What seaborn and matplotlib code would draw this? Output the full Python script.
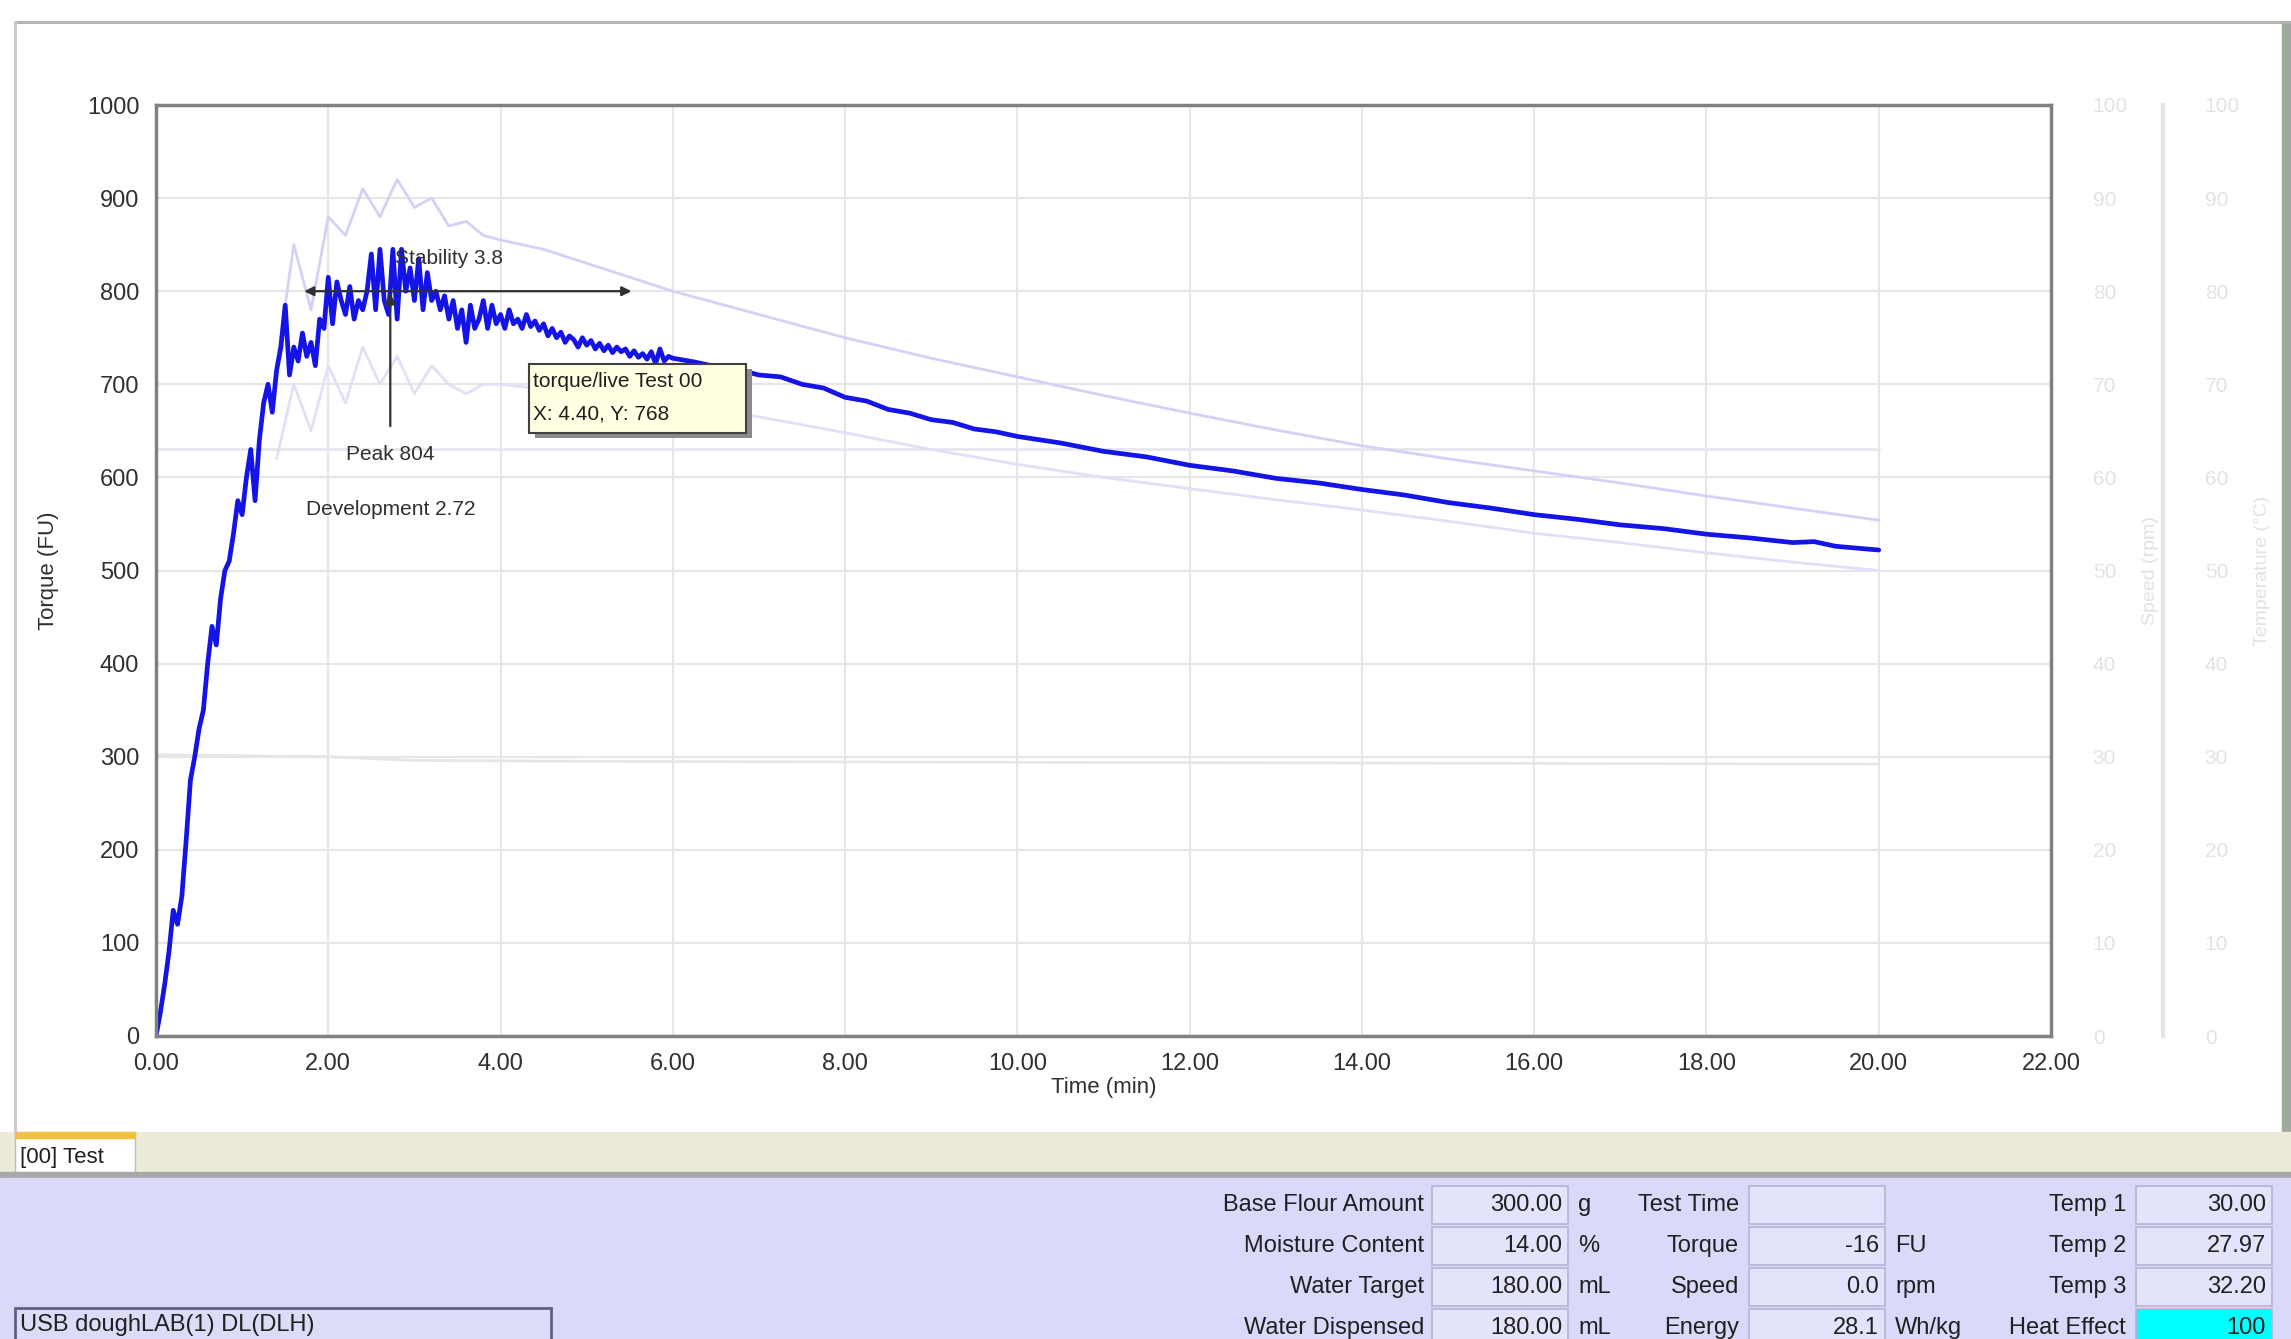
import numpy as np
import pandas as pd
import seaborn as sns
import matplotlib.pyplot as plt
from matplotlib.patches import Rectangle

# torque curve (time in min, torque in FU)
time_fast = [round(0.05 * i, 2) for i in range(121)]
torque_fast = [0, 25, 55, 90, 135, 120, 150, 210, 275, 300,
               330, 350, 400, 440, 420, 470, 500, 510, 540, 575,
               560, 600, 630, 575, 640, 680, 700, 670, 715, 740,
               785, 710, 740, 725, 755, 730, 745, 720, 770, 760,
               815, 765, 810, 790, 775, 805, 770, 790, 780, 800,
               840, 780, 845, 790, 775, 845, 770, 845, 800, 825,
               790, 835, 780, 820, 790, 800, 780, 795, 770, 790,
               760, 780, 745, 785, 760, 770, 790, 760, 785, 765,
               775, 760, 780, 765, 770, 760, 775, 762, 768, 758,
               765, 752, 760, 750, 756, 745, 752, 748, 740, 750,
               742, 747, 738, 744, 736, 742, 734, 740, 735, 738,
               730, 736, 729, 733, 727, 735, 722, 738, 725, 730,
               728]
time_slow = [6.25, 6.5, 6.75, 7.0, 7.25, 7.5, 7.75, 8.0, 8.25, 8.5, 8.75, 9.0,
             9.25, 9.5, 9.75, 10.0, 10.5, 11.0, 11.5, 12.0, 12.5, 13.0, 13.5,
             14.0, 14.5, 15.0, 15.5, 16.0, 16.5, 17.0, 17.5, 18.0, 18.5, 19.0,
             19.25, 19.5, 19.75, 20.0]
torque_slow = [724, 719, 716, 710, 708, 700, 696, 686, 682, 673, 669, 662,
               659, 652, 649, 644, 637, 628, 622, 613, 607, 599, 594,
               587, 581, 573, 567, 560, 555, 549, 545, 539, 535, 530,
               531, 526, 524, 522]

# faint tolerance band curves
band_time = [1.4, 1.6, 1.8, 2.0, 2.2, 2.4, 2.6, 2.8, 3.0, 3.2, 3.4, 3.6, 3.8,
             4.0, 4.5, 5.0, 5.5, 6.0, 7, 8, 9, 10, 11, 12, 13, 14, 15, 16,
             17, 18, 19, 20]
band_upper = [720, 850, 780, 880, 860, 910, 880, 920, 890, 900, 870, 875, 860,
              855, 845, 830, 815, 800, 775, 750, 728, 708, 688, 669, 651, 634,
              620, 607, 594, 580, 567, 554]
band_lower = [620, 700, 650, 720, 680, 740, 700, 730, 690, 720, 700, 690, 700,
              700, 695, 690, 685, 680, 665, 648, 630, 614, 600, 588, 576, 565,
              553, 540, 530, 519, 509, 500]

# speed (rpm) and temperature (C) traces, 0-100 scale
aux_time = [0, 1, 2, 3, 5, 10, 15, 20]
speed_rpm = [63, 63, 63, 63, 63, 63, 63, 63]
temp_c = [30.2, 30.1, 30.0, 29.6, 29.5, 29.4, 29.3, 29.2]

x_ticks = [0, 2, 4, 6, 8, 10, 12, 14, 16, 18, 20, 22]
y_ticks = [0, 100, 200, 300, 400, 500, 600, 700, 800, 900, 1000]

col1_labels = ['Base Flour Amount', 'Moisture Content', 'Water Target', 'Water Dispensed']
col1_values = ['300.00', '14.00', '180.00', '180.00']
col1_units = ['g', '%', 'mL', 'mL']
col2_labels = ['Test Time', 'Torque', 'Speed', 'Energy']
col2_values = ['', '-16', '0.0', '28.1']
col2_units = ['', 'FU', 'rpm', 'Wh/kg']
col3_labels = ['Temp 1', 'Temp 2', 'Temp 3', 'Heat Effect']
col3_values = ['30.00', '27.97', '32.20', '100']

sns.set_theme(style='white')
plt.rcParams['font.family'] = ['Liberation Sans Narrow', 'Liberation Sans', 'DejaVu Sans']

W, H = 2291, 1339
fig = plt.figure(figsize=(W / 100, H / 100), dpi=100)
fig.patch.set_facecolor('white')

# window chrome, in pixel coordinates
bg = fig.add_axes([0, 0, 1, 1], zorder=0)
bg.set_xlim(0, W)
bg.set_ylim(H, 0)
bg.axis('off')
bg.plot([15, W], [22, 22], color='#b0b0b0', lw=2)
bg.plot([15, 15], [22, 1132], color='#c8c8c8', lw=2)
bg.add_patch(Rectangle((2282, 22), 9, 1110, color='#9ea89e'))
bg.add_patch(Rectangle((0, 1132), W, 42, color='#ecead8'))
bg.add_patch(Rectangle((15, 1134), 120, 40, facecolor='white', edgecolor='#c0c0b0', lw=1))
bg.add_patch(Rectangle((15, 1132), 120, 6, color='#f0c040'))
bg.text(20, 1158, '[00] Test', fontsize=16, va='center', color='#202020')
bg.add_patch(Rectangle((0, 1172), W, 6, color='#a8a8a8'))
bg.add_patch(Rectangle((0, 1178), W, H - 1178, color='#d9d9f9'))

row_y = [1205, 1246, 1287, 1328]
tkw = dict(fontsize=17, va='center', color='#202020')
for i, y in enumerate(row_y):
    bg.text(1424, y, col1_labels[i], ha='right', **tkw)
    bg.add_patch(Rectangle((1432, y - 19), 136, 38, facecolor='#e3e3fb', edgecolor='#b4b4d4', lw=1.2))
    bg.text(1562, y, col1_values[i], ha='right', **tkw)
    bg.text(1578, y, col1_units[i], ha='left', **tkw)

    bg.text(1739, y, col2_labels[i], ha='right', **tkw)
    bg.add_patch(Rectangle((1749, y - 19), 136, 38, facecolor='#e3e3fb', edgecolor='#b4b4d4', lw=1.2))
    bg.text(1879, y, col2_values[i], ha='right', **tkw)
    bg.text(1895, y, col2_units[i], ha='left', **tkw)

    bg.text(2126, y, col3_labels[i], ha='right', **tkw)
    face = '#00ffff' if col3_labels[i] == 'Heat Effect' else '#e3e3fb'
    bg.add_patch(Rectangle((2136, y - 19), 136, 38, facecolor=face, edgecolor='#b4b4d4', lw=1.2))
    bg.text(2266, y, col3_values[i], ha='right', **tkw)

bg.add_patch(Rectangle((15, 1308), 536, 40, facecolor='#dcdcf8', edgecolor='#606080', lw=2))
bg.text(20, 1325, 'USB doughLAB(1) DL(DLH)', ha='left', **tkw)

# main chart
ax = fig.add_axes([156 / W, 1 - 1036 / H, (2051 - 156) / W, (1036 - 105) / H], zorder=3)
ax.set_facecolor('white')

aux = pd.DataFrame({'t': aux_time, 'speed': [v * 10 for v in speed_rpm],
                    'temp': [v * 10 for v in temp_c]})
sns.lineplot(data=aux, x='t', y='speed', ax=ax, color='#e6e6ee', lw=2, estimator=None)
sns.lineplot(data=aux, x='t', y='temp', ax=ax, color='#e6e6e6', lw=2, estimator=None)

band = pd.DataFrame({'t': band_time, 'upper': band_upper, 'lower': band_lower})
sns.lineplot(data=band, x='t', y='upper', ax=ax, color='#d2d2f6', lw=2, estimator=None)
sns.lineplot(data=band, x='t', y='lower', ax=ax, color='#e0e0f8', lw=2, estimator=None)

main = pd.DataFrame({'t': time_fast + time_slow, 'torque': torque_fast + torque_slow})
sns.lineplot(data=main, x='t', y='torque', ax=ax, color='#1414e6', lw=3.4,
             estimator=None, sort=False)

ax.set_xlim(0, 22)
ax.set_ylim(0, 1000)
ax.set_xticks(x_ticks)
ax.set_xticklabels([f'{v:.2f}' for v in x_ticks])
ax.set_yticks(y_ticks)
ax.set_yticklabels([str(v) for v in y_ticks])
ax.tick_params(length=0, labelsize=17, labelcolor='#303030', pad=12)
ax.grid(True, color='#e6e6e6', lw=1.5)
for s in ax.spines.values():
    s.set_color('#808080')
    s.set_linewidth(2.5)
ax.set_xlabel('Time (min)', fontsize=16, color='#303030', labelpad=2)
ax.set_ylabel('Torque (FU)', fontsize=16, color='#303030', labelpad=20)

# stability / development annotations
ax.annotate('', xy=(1.72, 800), xytext=(5.52, 800),
            arrowprops=dict(arrowstyle='<|-|>', color='#303030', lw=1.6,
                            mutation_scale=14, shrinkA=0, shrinkB=0), zorder=6)
ax.text(2.78, 835, 'Stability 3.8', fontsize=15, color='#303030', va='center', zorder=6)
ax.annotate('', xy=(2.72, 798), xytext=(2.72, 655),
            arrowprops=dict(arrowstyle='-|>', color='#303030', lw=1.6,
                            mutation_scale=16, shrinkA=0, shrinkB=0), zorder=6)
ax.text(2.72, 625, 'Peak 804', fontsize=15, color='#303030', ha='center', va='center')
ax.text(2.72, 565, 'Development 2.72', fontsize=15, color='#303030', ha='center', va='center')

# hover tooltip
ax.add_patch(Rectangle((4.40, 642), 2.52, 74, facecolor='#8a8a8a', edgecolor='none', zorder=7))
ax.add_patch(Rectangle((4.33, 648), 2.52, 74, facecolor='#ffffe1', edgecolor='#404040',
                       lw=1.5, zorder=8))
ax.text(4.38, 703, 'torque/live Test 00', fontsize=15, color='#202020', va='center', zorder=9)
ax.text(4.38, 668, 'X: 4.40, Y: 768', fontsize=15, color='#202020', va='center', zorder=9)

# faint secondary scales on the right
faint = '#e2e2e2'
ax_spd = ax.twinx()
ax_spd.set_ylim(0, 100)
ax_spd.set_yticks([v / 10 for v in y_ticks])
ax_spd.set_yticklabels([str(v // 10) for v in y_ticks])
ax_spd.tick_params(length=0, labelsize=15, labelcolor=faint, pad=30)
ax_spd.set_ylabel('Speed (rpm)', fontsize=14, color=faint, labelpad=10)
for s in ax_spd.spines.values():
    s.set_visible(False)

ax_tmp = ax.twinx()
ax_tmp.spines['right'].set_position(('axes', (2163 - 156) / (2051 - 156)))
ax_tmp.set_ylim(0, 100)
ax_tmp.set_yticks([v / 10 for v in y_ticks])
ax_tmp.set_yticklabels([str(v // 10) for v in y_ticks])
ax_tmp.tick_params(length=0, labelsize=15, labelcolor=faint, pad=30)
ax_tmp.set_ylabel('Temperature (°C)', fontsize=14, color=faint, labelpad=10)
for k, s in ax_tmp.spines.items():
    s.set_visible(k == 'right')
ax_tmp.spines['right'].set_color('#e4e4e4')
ax_tmp.spines['right'].set_linewidth(3)

fig.savefig('out.png', dpi=100, facecolor='white')
